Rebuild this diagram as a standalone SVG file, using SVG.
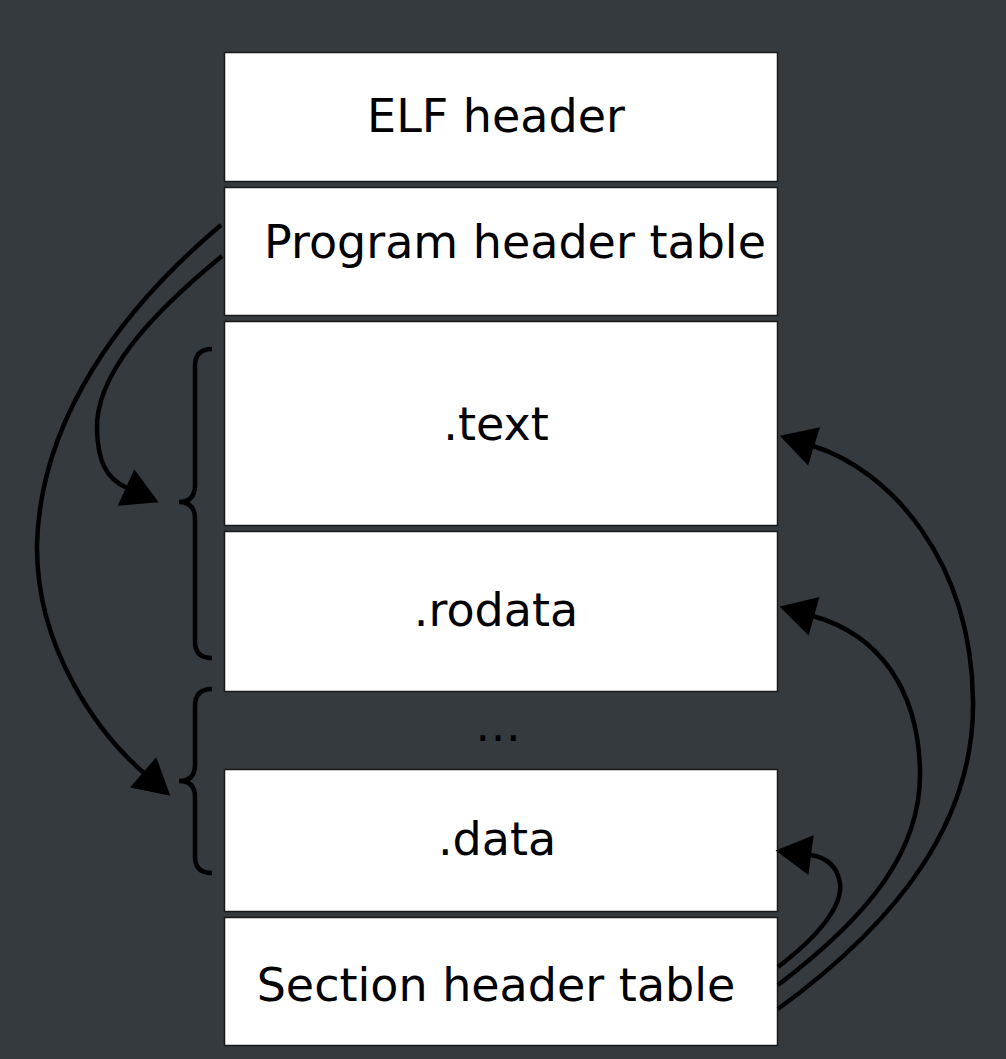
<svg xmlns="http://www.w3.org/2000/svg" width="1006" height="1059" viewBox="0 0 1006 1059">
<style>
.box{fill:#ffffff;stroke:#1a1a1a;stroke-width:1.5}
.lbl{font-family:"DejaVu Sans",sans-serif;font-size:46px;fill:#000;text-anchor:middle}
.con{fill:none;stroke:#000;stroke-width:4.5}
.brace{fill:none;stroke:#000;stroke-width:4.5}
</style>
<defs>
<marker id="ah" markerUnits="userSpaceOnUse" markerWidth="40" markerHeight="40" viewBox="0 0 34 38" refX="1" refY="19" orient="auto">
<path d="M0,0 L34,19 L0,38 z" fill="#000"/>
</marker>
</defs>
<rect width="1006" height="1059" fill="#353a3e"/>
<g id="elf-header"><rect class="box" x="224.5" y="52.5" width="553" height="129"/><text class="lbl" x="496" y="132">ELF header</text></g>
<g id="program-header-table"><rect class="box" x="224.5" y="187.5" width="553" height="128"/><text class="lbl" x="515" y="258">Program header table</text></g>
<g id="text"><rect class="box" x="224.5" y="321.5" width="553" height="204"/><text class="lbl" x="496" y="440">.text</text></g>
<g id="rodata"><rect class="box" x="224.5" y="531.5" width="553" height="160"/><text class="lbl" x="496" y="626">.rodata</text></g>
<g id="ellipsis"><text class="lbl" x="498" y="741">…</text></g>
<g id="data"><rect class="box" x="224.5" y="769.5" width="553" height="142"/><text class="lbl" x="497" y="855">.data</text></g>
<g id="section-header-table"><rect class="box" x="224.5" y="917.5" width="553" height="128"/><text class="lbl" x="496" y="1001">Section header table</text></g>
<g id="braces">
<path class="brace" d="M212,349 Q195,349 195,366 L195,485 Q195,502 179,502 Q195,502 195,519 L195,642 Q195,658 212,658"/>
<path class="brace" d="M212,689 Q195,689 195,706 L195,765 Q195,781 179,781 Q195,781 195,797 L195,857 Q195,873 212,873"/>
</g>
<g id="connectors">
<path class="con" marker-end="url(#ah)" d="M221,225 C120,310 40,420 37,545 C36,650 100,735 144,773"/>
<path class="con" marker-end="url(#ah)" d="M222,256 C150,315 95,375 97,430 C98,460 105,478 127,488"/>
<path class="con" marker-end="url(#ah)" d="M778,1009 C900,920 975,820 973,700 C971,560 890,470 813,446"/>
<path class="con" marker-end="url(#ah)" d="M778,985 C870,915 922,850 920,770 C918,690 880,635 813,616"/>
<path class="con" marker-end="url(#ah)" d="M778,967 C820,935 843,905 840,883 C837,865 825,857 810,855"/>
</g>
</svg>
